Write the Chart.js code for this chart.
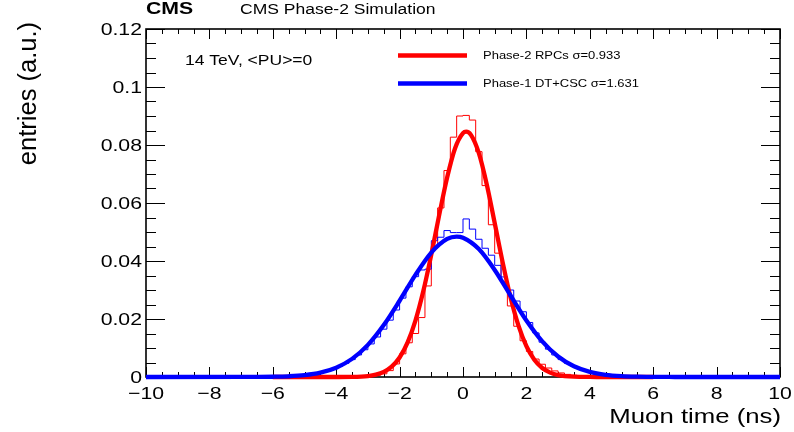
<!DOCTYPE html>
<html><head><meta charset="utf-8">
<script src="https://cdn.jsdelivr.net/npm/chart.js@4"></script>
<style>html,body{margin:0;padding:0;background:#fff}canvas{display:block}</style>
</head><body>
<canvas id="c" width="794" height="432"></canvas>
<script>
// ---- data ----
const xTickValues = [-10, -8, -6, -4, -2, 0, 2, 4, 6, 8, 10];
const xTickLabels = ['\u221210', '\u22128', '\u22126', '\u22124', '\u22122', '0', '2', '4', '6', '8', '10'];
const yTickValues = [0, 0.02, 0.04, 0.06, 0.08, 0.1, 0.12];
const yTickLabels = ['0', '0.02', '0.04', '0.06', '0.08', '0.1', '0.12'];

const binWidth = 0.2;
const redHistStart = -3.2;
const redHistValues = [
  0.0002, 0.0003, 0.0006, 0.0011, 0.0022, 0.0045, 0.0080, 0.0118, 0.0150, 0.0205,
  0.0314, 0.0445, 0.0583, 0.0712, 0.0827, 0.0900, 0.0902, 0.0886, 0.0777, 0.0660,
  0.0525, 0.0427, 0.0330, 0.0245, 0.0175, 0.0125, 0.0088, 0.0062, 0.0044, 0.0031,
  0.0021, 0.0014, 0.0009, 0.0006, 0.0003, 0.0002
];
const blueHistStart = -6.0;
const blueHistValues = [
  0.0001, 0.0001, 0.0002, 0.0003, 0.0005, 0.0007, 0.0010, 0.0014, 0.0020, 0.0027,
  0.0036, 0.0047, 0.0060, 0.0076, 0.0094, 0.0114, 0.0138, 0.0165, 0.0196, 0.0231,
  0.0272, 0.0311, 0.0346, 0.0369, 0.0372, 0.0470, 0.0482, 0.0505, 0.0498, 0.0498,
  0.0545, 0.0510, 0.0475, 0.0444, 0.0420, 0.0385, 0.0345, 0.0300, 0.0262, 0.0225,
  0.0188, 0.0152, 0.0120, 0.0096, 0.0076, 0.0060, 0.0047, 0.0037, 0.0029, 0.0022,
  0.0016, 0.0012, 0.0009, 0.0006, 0.0004, 0.0003, 0.0002, 0.0001, 0.0001, 0.0000
];

const redFitX = [-6, -5, -4.5, -4, -3.5, -3, -2.75, -2.5, -2.25, -2, -1.75, -1.5, -1.25, -1, -0.75, -0.5, -0.25, 0, 0.1, 0.25, 0.5, 0.75, 1, 1.25, 1.5, 1.75, 2, 2.25, 2.5, 2.75, 3, 3.5, 4, 4.5, 5, 6];
const redFitY = [0, 0, 0, 0.000005, 0.00005, 0.00034, 0.0008, 0.00174, 0.00355, 0.00672, 0.01183, 0.01944, 0.0297, 0.0422, 0.0559, 0.0688, 0.0789, 0.0841, 0.0846, 0.0835, 0.0772, 0.0664, 0.0531, 0.0396, 0.0274, 0.0177, 0.01064, 0.00595, 0.0031, 0.0015, 0.00068, 0.00011, 0.00001, 0, 0, 0];

const blueFitX = [-10, -7, -6.5, -6, -5.5, -5, -4.5, -4, -3.5, -3, -2.5, -2, -1.5, -1, -0.5, -0.2, 0, 0.5, 1, 1.5, 2, 2.5, 3, 3.5, 4, 4.5, 5, 5.5, 6, 6.5, 7, 10];
const blueFitY = [0, 0.00001, 0.00003, 0.00009, 0.00025, 0.00064, 0.0015, 0.00321, 0.00625, 0.01108, 0.01791, 0.0263, 0.0352, 0.0429, 0.0476, 0.0484, 0.0480, 0.0441, 0.0369, 0.0281, 0.01948, 0.01229, 0.00706, 0.00369, 0.00176, 0.00076, 0.0003, 0.00011, 0.00004, 0.00001, 0, 0];

const legendLabels = ['Phase-2 RPCs \u03c3=0.933', 'Phase-1 DT+CSC \u03c3=1.631'];

// ---- build library structures ----
function histPoints(start, values) {
  const pts = [{x: start, y: 0}];
  values.forEach((v, i) => pts.push({x: start + i * binWidth, y: v}));
  const end = start + values.length * binWidth;
  pts.push({x: end, y: values[values.length - 1]});
  pts.push({x: end, y: 0});
  return pts;
}
function curvePoints(xs, ys) { return xs.map((x, i) => ({x: x, y: ys[i]})); }

const FONT = '"Liberation Sans", Arial, Helvetica, sans-serif';
function txt(ctx, s, x, y, size, o) {
  o = o || {};
  ctx.save();
  ctx.font = (o.bold ? 'bold ' : '') + size + 'px ' + FONT;
  ctx.fillStyle = '#000';
  ctx.textAlign = o.align || 'left';
  ctx.textBaseline = o.base || 'alphabetic';
  ctx.translate(x, y);
  if (o.rot) ctx.rotate(o.rot);
  ctx.scale(o.sx || 1, 1);
  ctx.fillText(s, 0, 0);
  ctx.restore();
}

const rootStyle = {
  id: 'rootStyle',
  beforeDraw(chart) {
    const ctx = chart.ctx;
    ctx.save(); ctx.fillStyle = '#fff'; ctx.fillRect(0, 0, chart.width, chart.height); ctx.restore();
  },
  beforeDatasetsDraw(chart) {
    const ctx = chart.ctx, a = chart.chartArea, xs = chart.scales.x, ys = chart.scales.y;
    ctx.save();
    ctx.strokeStyle = '#000';
    ctx.lineWidth = 1;
    for (let v = -10; v <= 10.001; v += 0.5) {
      const px = Math.round(xs.getPixelForValue(v)) + 0.5;
      const major = Math.abs(v / 2 - Math.round(v / 2)) < 1e-6;
      const len = major ? 10 : 5;
      ctx.beginPath();
      ctx.moveTo(px, a.bottom); ctx.lineTo(px, a.bottom - len);
      ctx.moveTo(px, a.top); ctx.lineTo(px, a.top + len);
      ctx.stroke();
    }
    for (let k = 0; k <= 24; k++) {
      const v = k * 0.005;
      const py = Math.round(ys.getPixelForValue(v)) + 0.5;
      const len = (k % 4 === 0) ? 19 : 10;
      ctx.beginPath();
      ctx.moveTo(a.left, py); ctx.lineTo(a.left + len, py);
      ctx.moveTo(a.right, py); ctx.lineTo(a.right - len, py);
      ctx.stroke();
    }
    ctx.lineWidth = 1.6;
    ctx.strokeRect(a.left, a.top, a.right - a.left, a.bottom - a.top);
    ctx.restore();
  },
  afterDraw(chart) {
    const ctx = chart.ctx, a = chart.chartArea, xs = chart.scales.x, ys = chart.scales.y;
    xTickValues.forEach((v, i) => {
      txt(ctx, xTickLabels[i], xs.getPixelForValue(v), a.bottom + 21.5, 17, {align: 'center', sx: 1.25});
    });
    yTickValues.forEach((v, i) => {
      txt(ctx, yTickLabels[i], a.left - 4, ys.getPixelForValue(v) + 1, 17, {align: 'right', base: 'middle', sx: 1.25});
    });
    txt(ctx, 'Muon time (ns)', a.right + 1, 423, 20.6, {align: 'right', sx: 1.25});
    txt(ctx, 'entries (a.u.)', 36, 22, 25.5, {align: 'right', rot: -Math.PI / 2});
    txt(ctx, 'CMS', a.left, 14, 17, {bold: true, sx: 1.25});
    txt(ctx, 'CMS Phase-2 Simulation', 240, 13.5, 14, {sx: 1.25});
    txt(ctx, '14 TeV, <PU>=0', 185, 61, 14, {base: 'middle', sx: 1.25});
    const legColors = ['#ff0000', '#0000ff'];
    const legY = [55.5, 83.5];
    legendLabels.forEach((s, i) => {
      ctx.save();
      ctx.strokeStyle = legColors[i];
      ctx.lineWidth = 4.3;
      ctx.beginPath(); ctx.moveTo(398, legY[i]); ctx.lineTo(467, legY[i]); ctx.stroke();
      ctx.restore();
      txt(ctx, s, 483, legY[i] + 0.5, 11, {base: 'middle', sx: 1.18});
    });
  }
};

new Chart(document.getElementById('c'), {
  type: 'line',
  data: {
    datasets: [
      { label: 'blue fit', data: curvePoints(blueFitX, blueFitY), borderColor: '#0000ff', borderWidth: 4.3,
        pointRadius: 0, cubicInterpolationMode: 'monotone', fill: false, clip: 8, order: 0 },
      { label: 'red fit', data: curvePoints(redFitX, redFitY), borderColor: '#ff0000', borderWidth: 4.3,
        pointRadius: 0, cubicInterpolationMode: 'monotone', fill: false, clip: 8, order: 1 },
      { label: 'blue hist', data: histPoints(blueHistStart, blueHistValues), borderColor: '#0000ff', borderWidth: 1,
        pointRadius: 0, stepped: true, fill: false, clip: 8, order: 2 },
      { label: 'red hist', data: histPoints(redHistStart, redHistValues), borderColor: '#ff0000', borderWidth: 1,
        pointRadius: 0, stepped: true, fill: false, clip: 8, order: 3 }
    ]
  },
  options: {
    responsive: false,
    animation: false,
    layout: { padding: { left: 146, right: 14, top: 29, bottom: 55 } },
    plugins: { legend: { display: false }, tooltip: { enabled: false } },
    scales: {
      x: { type: 'linear', min: -10, max: 10, display: false },
      y: { type: 'linear', min: 0, max: 0.12, display: false }
    }
  },
  plugins: [rootStyle]
});
</script>
</body></html>
